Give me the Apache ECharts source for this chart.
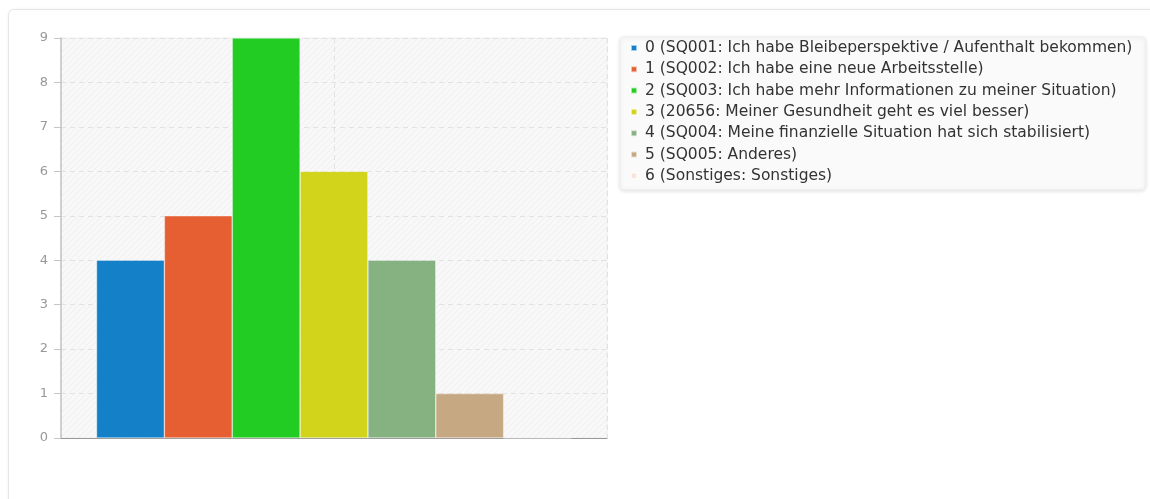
<!DOCTYPE html>
<html>
<head>
<meta charset="utf-8">
<script src="https://cdn.jsdelivr.net/npm/echarts@6/dist/echarts.min.js"></script>
<style>
html,body{margin:0;padding:0;background:#fff;}
#card{position:absolute;left:8px;top:9px;width:1160px;height:510px;border:1px solid #e6e6e6;border-radius:6px;box-shadow:0 0 3px rgba(0,0,0,0.06);}
#main{position:absolute;left:0;top:0;width:1150px;height:499px;}
</style>
</head>
<body>
<div id="card"></div>
<div id="main"></div>
<script>
const seriesNames = [
  '0 (SQ001: Ich habe Bleibeperspektive / Aufenthalt bekommen)',
  '1 (SQ002: Ich habe eine neue Arbeitsstelle)',
  '2 (SQ003: Ich habe mehr Informationen zu meiner Situation)',
  '3 (20656: Meiner Gesundheit geht es viel besser)',
  '4 (SQ004: Meine finanzielle Situation hat sich stabilisiert)',
  '5 (SQ005: Anderes)',
  '6 (Sonstiges: Sonstiges)'
];
const seriesValues = [4, 5, 9, 6, 4, 1, 0];
const seriesColors = ['#1380c8', '#e65f33', '#22cc22', '#d2d41c', '#86b282', '#c6a982', '#f9e4da'];
const categories = [''];

const pc = document.createElement('canvas');
pc.width = 6; pc.height = 6;
const g = pc.getContext('2d');
g.fillStyle = '#f8f8f8'; g.fillRect(0, 0, 6, 6);
g.strokeStyle = '#efefef'; g.lineWidth = 1;
g.beginPath(); g.moveTo(0, 6); g.lineTo(6, 0); g.stroke();
g.beginPath(); g.moveTo(-1, 1); g.lineTo(1, -1); g.stroke();
g.beginPath(); g.moveTo(5, 7); g.lineTo(7, 5); g.stroke();

const chart = echarts.init(document.getElementById('main'));
chart.setOption({
  animation: false,
  textStyle: { fontFamily: 'DejaVu Sans' },
  grid: {
    left: 61, top: 38, width: 546, height: 400,
    show: true, backgroundColor: { image: pc, repeat: 'repeat' }, borderColor: '#eeeeee', borderWidth: 1
  },
  legend: {
    orient: 'vertical', left: 620, top: 37,
    padding: [3, 13, 6, 10],
    itemWidth: 6, itemHeight: 6, itemGap: 5.3,
    icon: 'rect',
    backgroundColor: '#fafafa', borderColor: '#eeeeee', borderWidth: 1, borderRadius: 4,
    shadowColor: 'rgba(0,0,0,0.12)', shadowBlur: 4, shadowOffsetY: 1,
    textStyle: { fontFamily: 'DejaVu Sans', fontSize: 15.5, color: '#333', lineHeight: 16, padding: [0, 0, 0, 3] },
    data: seriesNames
  },
  xAxis: [
    {
      type: 'category', data: categories,
      axisLine: { show: true, lineStyle: { color: '#999', width: 1 } },
      axisTick: { show: false }, axisLabel: { show: false }, splitLine: { show: false }
    },
    {
      type: 'value', min: -1, max: 1, interval: 1, show: true, position: 'bottom',
      axisLine: { show: false }, axisTick: { show: false }, axisLabel: { show: false },
      splitLine: { show: true, lineStyle: { color: '#e2e2e2', type: [5, 4] } }
    }
  ],
  yAxis: {
    type: 'value', min: 0, max: 9, interval: 1,
    axisLine: { show: true, onZero: false, lineStyle: { color: '#c4c4c4', width: 1.5 } },
    axisTick: { show: true, length: 7, lineStyle: { color: '#c4c4c4' } },
    axisLabel: { color: '#999', fontSize: 13, margin: 13, fontFamily: 'DejaVu Sans' },
    splitLine: { show: true, lineStyle: { color: '#e2e2e2', type: [5, 4] } }
  },
  series: seriesNames.map((n, i) => ({
    name: n, type: 'bar', xAxisIndex: 0,
    data: [seriesValues[i]],
    barGap: '0%', barCategoryGap: '13%',
    itemStyle: { color: seriesColors[i], borderColor: 'rgba(255,255,255,0.6)', borderWidth: 0.6 }
  }))
});
</script>
</body>
</html>
